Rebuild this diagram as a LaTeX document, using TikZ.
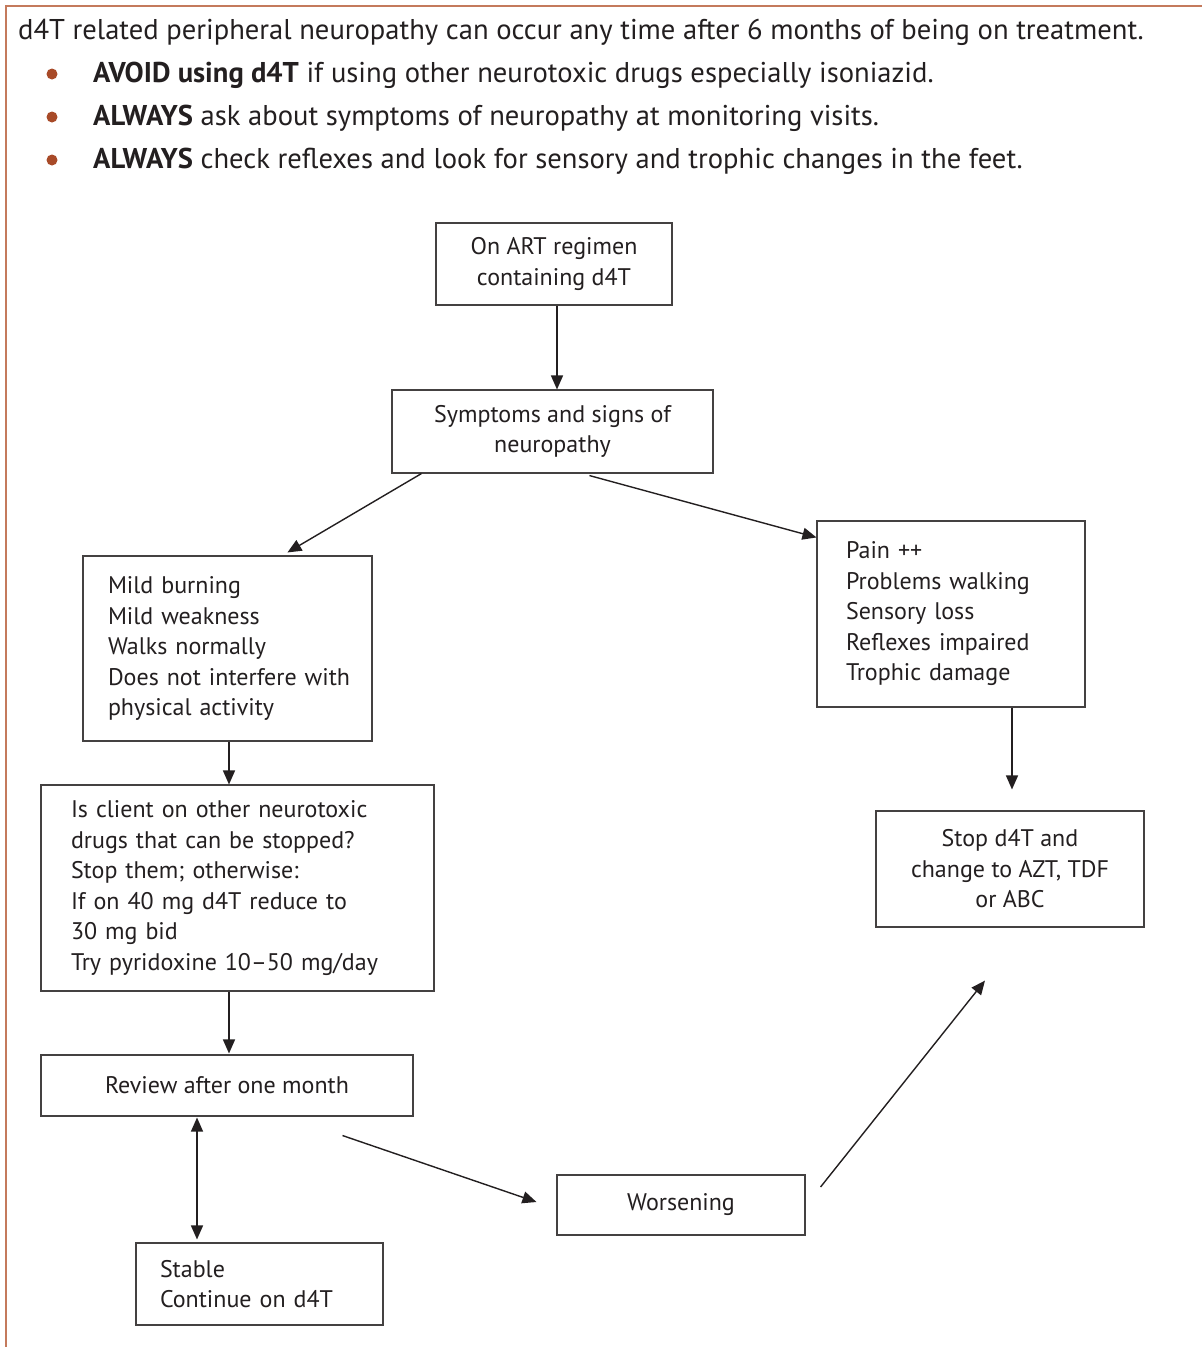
\documentclass[tikz,border=0pt]{standalone}
\usepackage{fontspec}
\setmainfont{PT Sans}
\usetikzlibrary{arrows.meta}
\definecolor{frame}{RGB}{196,122,92}
\definecolor{bulletc}{RGB}{168,74,40}
\definecolor{ink}{RGB}{35,31,32}
\newcommand{\hdrfont}{\fontsize{28.6}{43}\selectfont}
\newcommand{\bxfont}{\fontsize{24}{30.5}\selectfont}
\begin{document}
\begin{tikzpicture}[x=1pt,y=-1pt,
  hdr/.style={anchor=base west,inner sep=0pt,font=\hdrfont,text=ink},
  dot/.style={circle,fill=bulletc,minimum size=11pt,inner sep=0pt},
  box/.style={draw=ink!85,line width=1.1pt,rectangle,inner ysep=0pt,inner xsep=0pt,font=\bxfont,text=ink},
  cbox/.style={box,align=center},
  lbox/.style={box,align=left},
  arr/.style={draw=ink,line width=1.4pt,-{Triangle[length=14pt,width=12pt]}},
  darr/.style={draw=ink,line width=1.4pt,{Triangle[length=14pt,width=12pt]}-{Triangle[length=14pt,width=12pt]}}
]
\useasboundingbox (0,0) rectangle (1202,1347);
\fill[white] (0,0) rectangle (1202,1347);
\draw[frame,line width=1.6pt] (6,1347) -- (6,6) -- (1202,6);

\node[hdr] (t1) at (18,39) {d4T related peripheral neuropathy can occur any time after 6 months of being on treatment.};
\node[dot] (b1) at (52,74) {};
\node[dot] (b2) at (52,117) {};
\node[dot] (b3) at (52,160) {};
\node[hdr] (t2) at (93,82) {\textbf{AVOID using d4T} if using other neurotoxic drugs especially isoniazid.};
\node[hdr] (t3) at (93,125) {\textbf{ALWAYS} ask about symptoms of neuropathy at monitoring visits.};
\node[hdr] (t4) at (93,168) {\textbf{ALWAYS} check reflexes and look for sensory and trophic changes in the feet.};

\node[cbox,minimum width=236pt,minimum height=82pt] (art) at (554,264) {On ART regimen\\containing d4T};
\node[cbox,minimum width=321pt,minimum height=83pt] (sym) at (552.5,431.5) {Symptoms and signs of\\neuropathy};
\node[lbox,minimum width=289pt,minimum height=185pt,inner xsep=25pt,text width=239pt] (mild) at (227.5,648.5)
  {Mild burning\\Mild weakness\\Walks normally\\\mbox{Does not interfere with}\\physical activity};
\node[lbox,minimum width=268pt,minimum height=186pt,inner xsep=29pt,text width=210pt] (sev) at (951,614)
  {Pain ++\\Problems walking\\Sensory loss\\Reflexes impaired\\Trophic damage};
\node[lbox,minimum width=393pt,minimum height=206pt,inner xsep=30pt,text width=333pt] (client) at (237.5,888)
  {Is client on other neurotoxic\\drugs that can be stopped?\\Stop them; otherwise:\\If on 40 mg d4T reduce to\\30 mg bid\\Try pyridoxine 10–50 mg/day};
\node[cbox,minimum width=372pt,minimum height=61pt] (rev) at (227,1085.5) {Review after one month};
\node[lbox,minimum width=247pt,minimum height=82pt,inner xsep=24pt,text width=199pt] (stab) at (259.5,1284)
  {Stable\\Continue on d4T};
\node[cbox,minimum width=248pt,minimum height=60pt] (wor) at (681,1205) {Worsening};
\node[cbox,minimum width=268pt,minimum height=116pt] (stop) at (1010,869) {Stop d4T and\\change to AZT, TDF\\or ABC};

\draw[arr] ([xshift=3pt]art.south) -- ([xshift=3pt]art.south |- sym.north);
\draw[arr] ([xshift=30pt]sym.south west) -- ([xshift=205pt,yshift=3pt]mild.north west);
\draw[arr] ([xshift=198pt,yshift=-2pt]sym.south west) -- ([yshift=-17pt]sev.north west);
\draw[arr] ([xshift=1.5pt]mild.south) -- ([xshift=1.5pt]mild.south |- client.north);
\draw[arr] ([xshift=-8.5pt]client.south) -- ([xshift=-8.5pt,yshift=1pt]client.south |- rev.north);
\draw[darr] ([xshift=-30pt,yshift=-1pt]rev.south) -- ([xshift=-30pt,yshift=3pt]rev.south |- stab.north);
\draw[arr] ([xshift=-71pt,yshift=-19pt]rev.south east) -- ([xshift=-20pt,yshift=3pt]wor.west);
\draw[arr] ([xshift=15pt,yshift=18pt]wor.east) -- ([xshift=-25pt,yshift=-53pt]stop.south);
\draw[arr,shorten >=21pt] ([xshift=61pt]sev.south) -- ([xshift=61pt]sev.south |- stop.north);
\end{tikzpicture}
\end{document}
